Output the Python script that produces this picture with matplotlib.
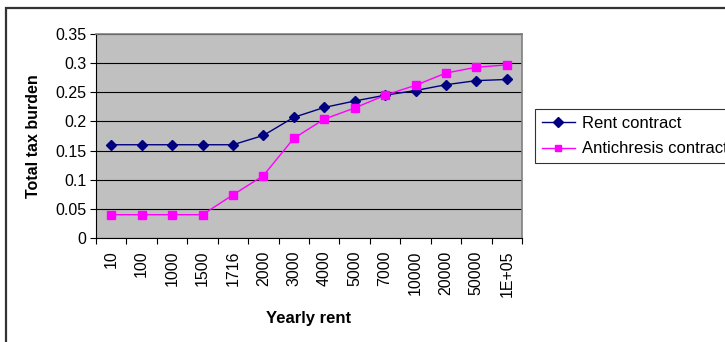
import matplotlib
matplotlib.use("Agg")
import matplotlib.pyplot as plt
from matplotlib.patches import Rectangle
import numpy as np

plt.rcParams['font.family'] = ['Liberation Sans', 'DejaVu Sans']

categories = ["10", "100", "1000", "1500", "1716", "2000", "3000", "4000",
              "5000", "7000", "10000", "20000", "50000", "1E+05"]
rent_contract = [0.160, 0.160, 0.160, 0.160, 0.160, 0.176, 0.207, 0.224,
                 0.235, 0.245, 0.253, 0.263, 0.270, 0.272]
antichresis_contract = [0.040, 0.040, 0.040, 0.040, 0.074, 0.107, 0.171, 0.204,
                        0.223, 0.245, 0.262, 0.283, 0.293, 0.297]
y_ticks = [0, 0.05, 0.1, 0.15, 0.2, 0.25, 0.3, 0.35]
y_tick_labels = ["0", "0.05", "0.1", "0.15", "0.2", "0.25", "0.3", "0.35"]

TICK_FS = 11.5
fig = plt.figure(figsize=(7.25, 3.42), dpi=100)
ax = fig.add_axes([96/725, 1-238/342, (522-96)/725, (238-34)/342])
ax.set_facecolor('#C0C0C0')

x = np.arange(len(categories))
ax.plot(x, rent_contract, color='#000080', lw=1.0, marker='D', ms=5.5,
        mfc='#000080', mec='#000080', label='Rent contract', zorder=3)
ax.plot(x, antichresis_contract, color='#FF00FF', lw=1.0, marker='s', ms=5.5,
        mfc='#FF00FF', mec='#FF00FF', label='Antichresis contract', zorder=3)

ax.set_xlim(-0.5, len(categories) - 0.5)
ax.set_ylim(0, 0.35)

# category boundaries carry the tick marks, centres carry the labels
ax.set_xticks(np.arange(len(categories) + 1) - 0.5)
ax.set_xticklabels([])
ax.set_xticks(x, minor=True)
ax.set_xticklabels(categories, minor=True, rotation=90, fontsize=TICK_FS)
ax.tick_params(axis='x', which='major', direction='out', length=4, width=0.8, color='black')
ax.tick_params(axis='x', which='minor', length=0, pad=9)

ax.set_yticks(y_ticks)
ax.set_yticklabels(y_tick_labels, fontsize=TICK_FS)
ax.tick_params(axis='y', direction='out', length=4, width=0.8, color='black', pad=3)

ax.yaxis.grid(True, color='black', lw=0.8)
ax.set_axisbelow(True)

for side in ('top', 'right'):
    ax.spines[side].set_color('#808080')
    ax.spines[side].set_linewidth(1.2)
for side in ('left', 'bottom'):
    ax.spines[side].set_color('black')
    ax.spines[side].set_linewidth(0.8)

ax.set_xlabel('Yearly rent', fontsize=12, fontweight='bold', labelpad=10)
ax.set_ylabel('Total tax burden', fontsize=11.5, fontweight='bold', labelpad=10)

leg = fig.legend(loc='upper left', bbox_to_anchor=(535/725, 1-109/342),
                 bbox_transform=fig.transFigure, fontsize=12, frameon=True,
                 fancybox=False, borderaxespad=0, borderpad=0.4,
                 handlelength=2.0, handletextpad=0.4, labelspacing=0.65)
leg.get_frame().set_edgecolor('black')
leg.get_frame().set_linewidth(0.8)
for h in leg.legend_handles:
    h.set_markersize(5)

# chart area frame
fig.patches.append(Rectangle((6/725, -0.2), 1.5, 1.2 - 7.5/342, transform=fig.transFigure,
                             fill=False, ec='#333333', lw=1.6))

fig.savefig('out.png', dpi=100)
